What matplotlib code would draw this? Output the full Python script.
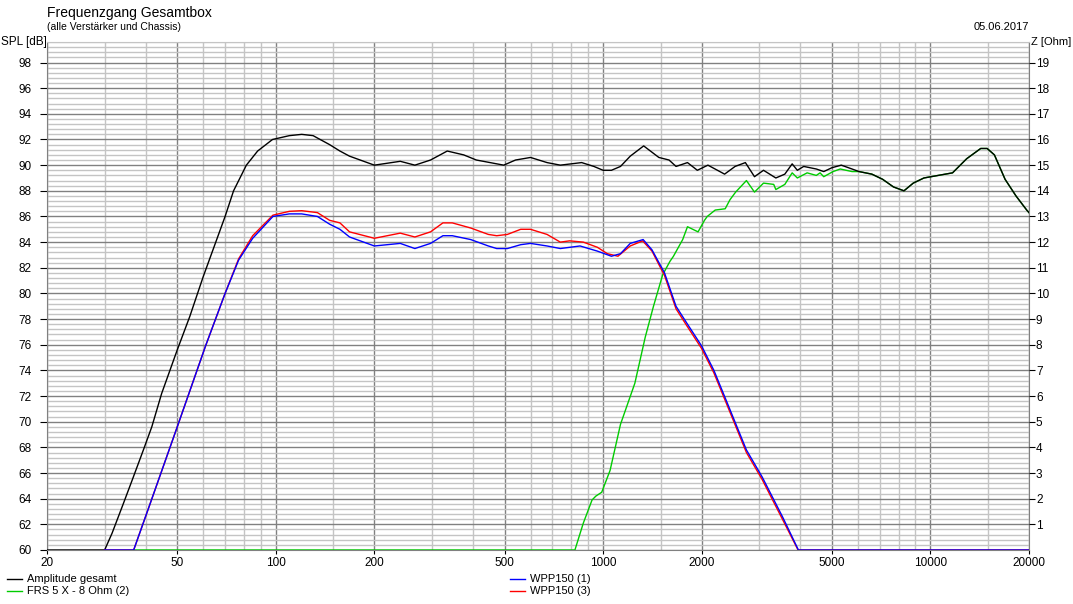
import numpy as np
import matplotlib
matplotlib.use("Agg")
import matplotlib.pyplot as plt
from matplotlib.lines import Line2D
from matplotlib.ticker import FixedLocator, NullFormatter

plt.rcParams['font.family'] = ['Liberation Sans', 'DejaVu Sans']

# ---------------- data ----------------
amp_f = [20, 30, 31.6, 34.2, 36.6, 39.4, 41.8, 44.8, 50, 54.6, 60, 70, 74.3, 81.3, 88, 97.7, 110, 120,
         130, 146, 157, 168, 200, 240, 266, 297, 334, 375, 410, 497, 540, 600, 674, 740, 860, 937,
         1000, 1060, 1130, 1210, 1330, 1480, 1590, 1670, 1810, 1940, 2090, 2350, 2530, 2720, 2900,
         3090, 3370, 3590, 3780, 3920, 4100, 4480, 4720, 5000, 5340, 5760, 6050, 6620, 7140, 7710,
         8300, 8860, 9550, 10560, 11680, 12900, 14240, 14900, 15680, 16900, 18250, 19680, 20000]
amp_db = [60, 60, 61.3, 63.6, 65.6, 67.8, 69.6, 72.2, 75.6, 78.2, 81.3, 86.0, 88.0, 90.0, 91.1, 92.0,
          92.3, 92.4, 92.3, 91.6, 91.1, 90.7, 90.0, 90.3, 90.0, 90.4, 91.1, 90.8, 90.4, 90.0,
          90.4, 90.6, 90.2, 90.0, 90.2, 89.9, 89.6, 89.6, 89.9, 90.7, 91.5, 90.6, 90.4, 89.9, 90.2,
          89.6, 90.0, 89.3, 89.9, 90.2, 89.1, 89.6, 89.0, 89.3, 90.1, 89.6, 89.9, 89.7, 89.5, 89.8,
          90.0, 89.7, 89.5, 89.3, 88.9, 88.3, 88.0, 88.6, 89.0, 89.2, 89.4, 90.5, 91.3, 91.3, 90.8,
          88.9, 87.6, 86.5, 86.3]

frs_f = [36.8, 820, 870, 925, 950, 990, 1050, 1130, 1250, 1345, 1425, 1520, 1600, 1640, 1750, 1810,
         1950, 2040, 2080, 2200, 2360, 2440, 2540, 2740, 2900, 3090, 3320, 3370, 3590, 3780, 3920,
         4200, 4480, 4600, 4720, 5040, 5300, 5760, 6050, 6620, 7140, 7710, 8300, 8860, 9550, 10560,
         11680, 12900, 14240, 14900, 15680, 16900, 18250, 19680, 20000]
frs_db = [60, 60, 62.1, 63.9, 64.2, 64.5, 66.2, 69.8, 73.0, 76.6, 79.0, 81.45, 82.5, 82.9, 84.2, 85.2,
          84.8, 85.7, 86.0, 86.5, 86.6, 87.3, 87.9, 88.8, 87.9, 88.6, 88.5, 88.1, 88.5, 89.4, 89.0,
          89.4, 89.2, 89.4, 89.1, 89.5, 89.7, 89.5, 89.5, 89.3, 88.9, 88.3, 88.0, 88.6, 89.0, 89.2,
          89.4, 90.5, 91.3, 91.3, 90.8, 88.9, 87.6, 86.5, 86.3]

wpp1_f = [30, 36.8, 41.3, 50, 61, 70, 77, 85, 98, 110, 120, 134, 146, 157, 168, 200, 240, 266, 297,
          324, 346, 394, 446, 473, 510, 560, 600, 674, 740, 850, 960, 1060, 1130, 1210, 1325, 1410,
          1540, 1670, 1800, 2000, 2180, 2400, 2740, 3060, 3530, 3950, 20000]
wpp1_db = [60, 60, 63.6, 69.6, 75.9, 80.0, 82.6, 84.3, 86.0, 86.2, 86.2, 86.0, 85.4, 85.0, 84.4, 83.7,
           83.9, 83.5, 83.9, 84.5, 84.5, 84.2, 83.7, 83.5, 83.5, 83.8, 83.9, 83.7, 83.5, 83.7, 83.3,
           82.9, 83.1, 83.9, 84.2, 83.4, 81.6, 79.0, 77.7, 75.9, 74.0, 71.4, 67.8, 65.7, 62.6, 60, 60]

wpp3_f = [30, 36.8, 41.3, 50, 61, 70, 77, 85, 98, 110, 120, 134, 146, 157, 168, 200, 240, 266, 297,
          324, 346, 394, 446, 473, 510, 560, 600, 674, 740, 790, 870, 960, 1030, 1110, 1210, 1320,
          1410, 1540, 1670, 1800, 2000, 2180, 2400, 2740, 3060, 3530, 3940, 20000]
wpp3_db = [60, 60, 63.6, 69.6, 75.9, 80.0, 82.7, 84.5, 86.1, 86.4, 86.45, 86.3, 85.7, 85.5, 84.8, 84.3,
           84.7, 84.4, 84.8, 85.5, 85.5, 85.1, 84.6, 84.5, 84.6, 85.0, 85.0, 84.6, 84.0, 84.1, 84.0,
           83.6, 83.1, 82.9, 83.7, 84.1, 83.3, 81.4, 78.8, 77.5, 75.7, 73.8, 71.2, 67.6, 65.5, 62.4,
           60, 60]

x_major = [20, 50, 100, 200, 500, 1000, 2000, 5000, 10000, 20000]
x_minor = [30, 40, 60, 70, 80, 90, 150, 300, 400, 600, 700, 800, 900, 1500, 3000, 4000,
           6000, 7000, 8000, 9000, 15000]
spl_ticks = list(range(60, 100, 2))
z_ticks = list(range(1, 20))

labels = ["Amplitude gesamt", "FRS 5 X - 8 Ohm (2)", "WPP150 (1)", "WPP150 (3)"]
colors = ["#000000", "#00cc00", "#0000ff", "#ff0000"]

# ---------------- figure ----------------
W, H = 1073, 604
fig = plt.figure(figsize=(W / 100, H / 100), dpi=100, facecolor="white")
L, R, T, B = 47, 1029, 42, 550
ax = fig.add_axes([L / W, 1 - B / H, (R - L) / W, (B - T) / H])
ax.set_xscale("log")
ax.set_xlim(20, 20000)
ax.set_ylim(60, 99.6)

lw = 1.0
ax.plot(frs_f, frs_db, color=colors[1], lw=lw, zorder=3)
ax.plot(amp_f, amp_db, color=colors[0], lw=lw, zorder=4)
ax.plot(wpp3_f, wpp3_db, color=colors[3], lw=lw, zorder=5)
ax.plot(wpp1_f, wpp1_db, color=colors[2], lw=lw, zorder=6)

ax.xaxis.set_major_locator(FixedLocator(x_major))
ax.xaxis.set_minor_locator(FixedLocator(x_minor))
ax.set_xticklabels([str(v) for v in x_major])
ax.xaxis.set_minor_formatter(NullFormatter())
ax.yaxis.set_major_locator(FixedLocator(spl_ticks))
ax.yaxis.set_minor_locator(FixedLocator([round(60 + 0.4 * i, 1) for i in range(100)]))
ax.set_yticklabels([str(v) for v in spl_ticks])

ax.grid(which="major", color="#808080", lw=1.0, zorder=1)
ax.grid(which="minor", color="#c4c4c4", lw=1.0, zorder=0)
ax.set_axisbelow(True)
ax.tick_params(which="minor", length=0)
ax.tick_params(axis="x", which="major", length=3, pad=2, labelsize=8.5, color="black")
ax.tick_params(axis="y", which="major", length=5, pad=6, labelsize=8.5, color="black")
for s in ["left", "right", "bottom"]:
    ax.spines[s].set_color("#808080")
ax.spines["top"].set_color("#c4c4c4")

ax2 = ax.twinx()
ax2.set_ylim(0, 19.8)
ax2.yaxis.set_major_locator(FixedLocator(z_ticks))
ax2.set_yticklabels([str(v) for v in z_ticks])
ax2.tick_params(axis="y", length=4, pad=1, labelsize=8.5, color="black")
for s in ax2.spines.values():
    s.set_visible(False)

# texts
fig.text(47 / W, 1 - 17 / H, "Frequenzgang Gesamtbox", fontsize=10, ha="left", va="baseline")
fig.text(47 / W, 1 - 30 / H, "(alle Verstärker und Chassis)", fontsize=7.5, ha="left", va="baseline")
fig.text(1029 / W, 1 - 30 / H, "05.06.2017", fontsize=8, ha="right", va="baseline")
fig.text(1 / W, 1 - 42 / H, "SPL [dB]", fontsize=8.5, ha="left", va="center")
fig.text(1071 / W, 1 - 42 / H, "Z [Ohm]", fontsize=8, ha="right", va="center")

# legend
leg_pos = [(7, 579), (7, 591), (510, 579), (510, 591)]
for (lx, ly), lab, col in zip(leg_pos, labels, colors):
    fig.add_artist(Line2D([lx / W, (lx + 15) / W], [1 - ly / H, 1 - ly / H], color=col, lw=1.0,
                          transform=fig.transFigure))
    fig.text((lx + 20) / W, 1 - ly / H, lab, fontsize=8, ha="left", va="center")

fig.savefig("out.png", dpi=100, facecolor="white")
